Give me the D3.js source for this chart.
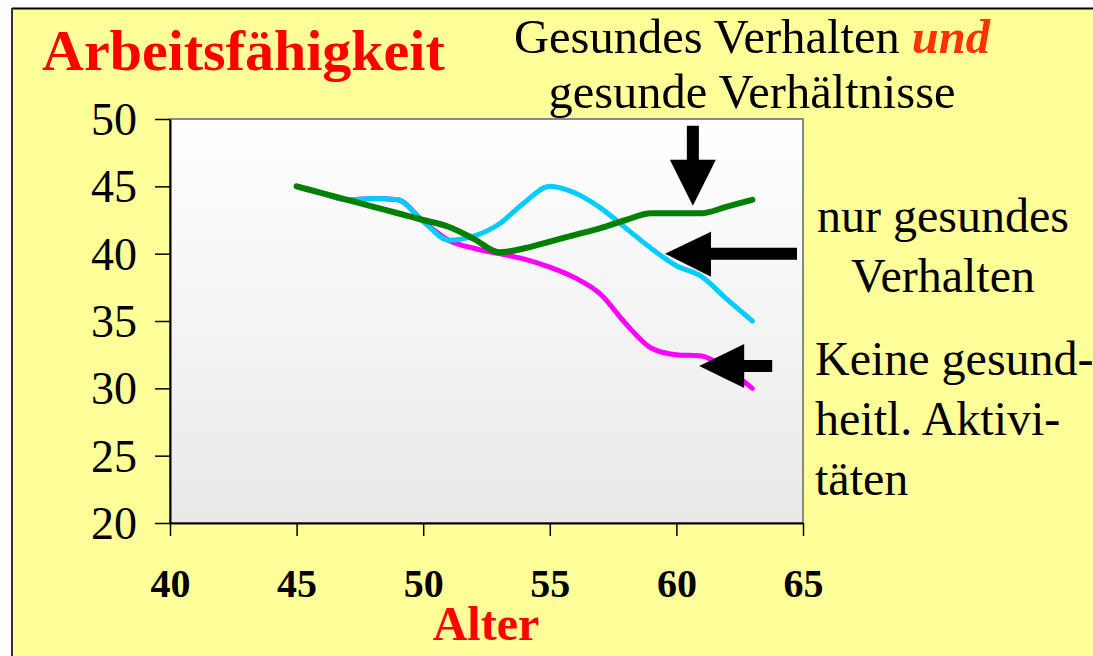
<!DOCTYPE html>
<html>
<head>
<meta charset="utf-8">
<script src="https://cdn.jsdelivr.net/npm/d3@7"></script>
<style>
  body { margin: 0; background: #fff; }
  text { font-family: "Liberation Serif", "Times New Roman", serif; }
</style>
</head>
<body>
<svg width="1093" height="656"></svg>
<script>
// ages (years) and the three curves
var ages = [45, 46, 47, 48, 49, 50, 51, 52, 53, 54, 55, 56, 57, 58, 59, 60, 61, 62, 63];
var keine  = [45, 44.5, 44.0, 44.1, 44.0, 42.4, 41.0, 40.4, 40.0, 39.6, 39.0, 38.2, 37.0, 34.8, 33.0, 32.5, 32.4, 31.4, 30.0];
var nurVerhalten = [45, 44.5, 44.0, 44.1, 44.0, 42.4, 41.0, 41.3, 42.2, 43.8, 45.0, 44.5, 43.4, 41.9, 40.4, 39.1, 38.3, 36.6, 35.0];
var beides = [45, 44.5, 44.0, 43.5, 43.0, 42.5, 42.0, 41.1, 40.1, 40.4, 40.9, 41.4, 41.9, 42.5, 43.0, 43.0, 43.0, 43.5, 44.0];

var xTicks = [40, 45, 50, 55, 60, 65];
var yTicks = [20, 25, 30, 35, 40, 45, 50];

// arrow tips in data units, direction
var arrows = [
  {x: 60.65, y: 43.55, dir: 'down'},
  {x: 59.55, y: 40.0, dir: 'left', big: true},
  {x: 60.9, y: 31.65, dir: 'left'}
];

var svg = d3.select('svg');

// slide background
svg.append('rect').attr('x', 12).attr('y', 8).attr('width', 1081).attr('height', 648)
  .attr('fill', '#ffff99');
svg.append('line').attr('x1', 12).attr('x2', 1093).attr('y1', 8.5).attr('y2', 8.5)
  .attr('stroke', '#000').attr('stroke-width', 2);
svg.append('line').attr('x1', 12).attr('x2', 12).attr('y1', 8).attr('y2', 656)
  .attr('stroke', '#333').attr('stroke-width', 2);

var pL = 170, pR = 803, pT = 119, pB = 523;

var x = d3.scaleLinear().domain([40, 65]).range([pL, pR]);
var y = d3.scaleLinear().domain([20, 50]).range([pB, pT]);

var defs = svg.append('defs');
var grad = defs.append('linearGradient').attr('id', 'plotbg')
  .attr('x1', 0).attr('y1', 0).attr('x2', 0).attr('y2', 1);
grad.append('stop').attr('offset', '0%').attr('stop-color', '#ffffff');
grad.append('stop').attr('offset', '100%').attr('stop-color', '#e9e9e9');

svg.append('rect').attr('x', pL).attr('y', pT)
  .attr('width', pR - pL).attr('height', pB - pT)
  .attr('fill', 'url(#plotbg)')
  .attr('stroke', '#888').attr('stroke-width', 2);

// axes
var yAxis = svg.append('g').attr('transform', 'translate(' + pL + ',0)')
  .call(d3.axisLeft(y).tickValues(yTicks).tickSize(15).tickPadding(18).tickSizeOuter(0));
var xAxis = svg.append('g').attr('transform', 'translate(0,' + pB + ')')
  .call(d3.axisBottom(x).tickValues(xTicks).tickSize(13).tickPadding(36).tickSizeOuter(0));

[yAxis, xAxis].forEach(function(a) {
  a.select('.domain').attr('stroke', '#000').attr('stroke-width', 2);
  a.selectAll('.tick line').attr('stroke', '#000').attr('stroke-width', 1.5);
  a.selectAll('text').attr('fill', '#000')
    .style('font-family', '"Liberation Serif", serif');
});
yAxis.selectAll('text').style('font-size', '46px').attr('dy', '0.34em');
xAxis.selectAll('text').style('font-size', '40px').style('font-weight', 'bold').attr('dy', '0.62em');

// lines
var line = d3.line()
  .x(function(d) { return x(d[0]); })
  .y(function(d) { return y(d[1]); })
  .curve(d3.curveMonotoneX);

var series = [
  {vals: keine, color: '#ff00ff', w: 5},
  {vals: nurVerhalten, color: '#00ccff', w: 5},
  {vals: beides, color: '#008000', w: 6}
];
series.forEach(function(s) {
  svg.append('path')
    .datum(ages.map(function(a, i) { return [a, s.vals[i]]; }))
    .attr('d', line)
    .attr('fill', 'none')
    .attr('stroke', s.color)
    .attr('stroke-width', s.w)
    .attr('stroke-linecap', 'round')
    .attr('stroke-linejoin', 'round');
});

// arrows
arrows.forEach(function(a) {
  var tx = x(a.x), ty = y(a.y), pts;
  if (a.dir === 'down') {
    pts = [[tx, ty], [tx - 23, ty - 46], [tx - 6, ty - 46], [tx - 6, ty - 80],
           [tx + 6, ty - 80], [tx + 6, ty - 46], [tx + 23, ty - 46]];
  } else if (a.big) {
    pts = [[tx, ty], [tx + 46, ty - 22], [tx + 46, ty - 6], [tx + 132, ty - 6],
           [tx + 132, ty + 6], [tx + 46, ty + 6], [tx + 46, ty + 23]];
  } else {
    pts = [[tx, ty], [tx + 45, ty - 22], [tx + 45, ty - 6], [tx + 73, ty - 6],
           [tx + 73, ty + 6], [tx + 45, ty + 6], [tx + 45, ty + 22]];
  }
  svg.append('polygon').attr('points', pts.map(function(p) { return p.join(','); }).join(' '))
    .attr('fill', '#000');
});

// titles and annotations
svg.append('text').attr('x', 42).attr('y', 70)
  .attr('fill', '#ff0000').style('font-size', '58px').style('font-weight', 'bold')
  .text('Arbeitsfähigkeit');

svg.append('text').attr('x', 486).attr('y', 640)
  .attr('text-anchor', 'middle')
  .attr('fill', '#ff0000').style('font-size', '48px').style('font-weight', 'bold')
  .text('Alter');

var t1 = svg.append('text').attr('x', 752).attr('y', 53).attr('text-anchor', 'middle')
  .style('font-size', '48.5px').attr('fill', '#000');
t1.append('tspan').text('Gesundes Verhalten ');
t1.append('tspan').attr('fill', '#ff3300').style('font-style', 'italic').style('font-weight', 'bold').text('und');

svg.append('text').attr('x', 752).attr('y', 108).attr('text-anchor', 'middle')
  .style('font-size', '48.5px').attr('fill', '#000').text('gesunde Verhältnisse');

svg.append('text').attr('x', 943).attr('y', 232).attr('text-anchor', 'middle')
  .style('font-size', '48px').attr('fill', '#000').text('nur gesundes');
svg.append('text').attr('x', 943).attr('y', 292).attr('text-anchor', 'middle')
  .style('font-size', '48px').attr('fill', '#000').text('Verhalten');

['Keine gesund-', 'heitl. Aktivi-', 'täten'].forEach(function(s, i) {
  svg.append('text').attr('x', 815).attr('y', 375 + i * 60)
    .style('font-size', '48px').attr('fill', '#000').text(s);
});
</script>
</body>
</html>
